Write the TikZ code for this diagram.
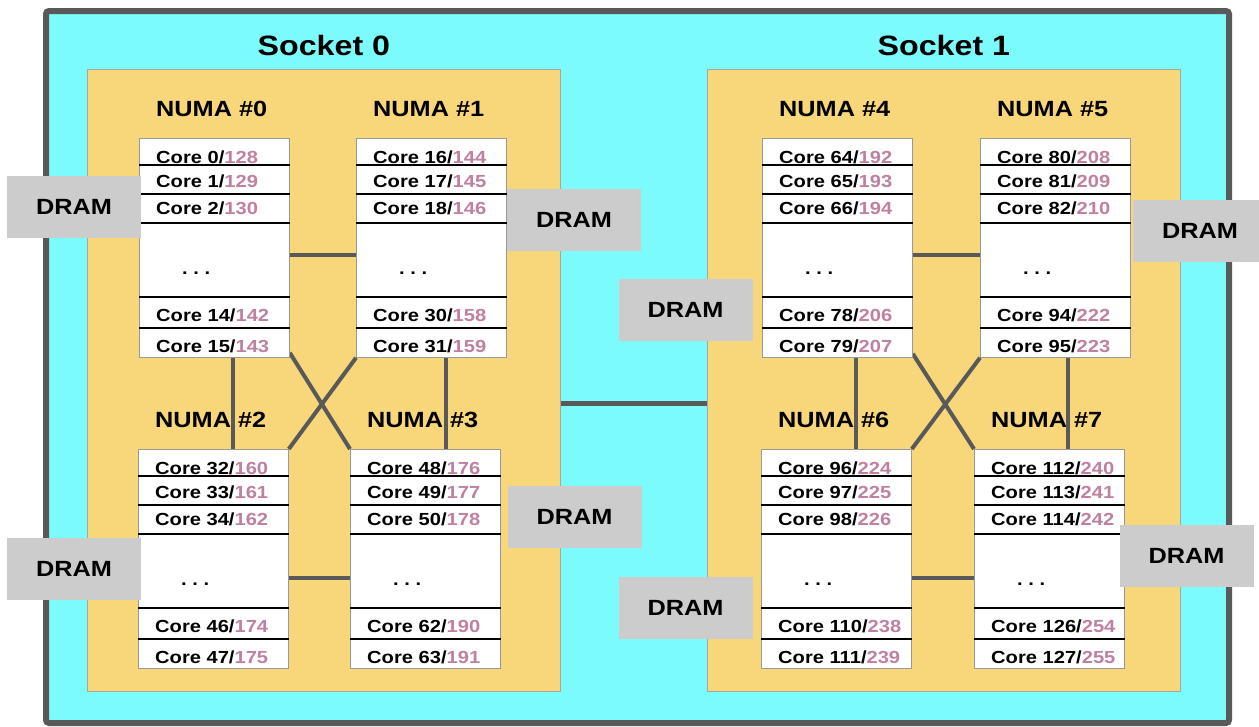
\documentclass[tikz,border=0pt]{standalone}
\usepackage{fontspec}
\setmainfont{Liberation Sans}[FakeStretch=1.15]
\usepackage{tikz}
\usetikzlibrary{positioning,calc,backgrounds}

\definecolor{boardcyan}{RGB}{124,251,252}
\definecolor{socketorange}{RGB}{248,214,122}
\definecolor{dramgray}{RGB}{204,204,204}
\definecolor{linkgray}{RGB}{89,89,89}
\definecolor{htpink}{RGB}{192,128,162}

\tikzset{
    socketbox/.style={draw=gray!70, line width=0.8pt, fill=socketorange, anchor=north west,
        minimum width=473pt, minimum height=622pt, inner sep=0pt},
    numabox/.style={draw=gray!80, line width=0.8pt, fill=white, anchor=north west,
        minimum width=150pt, minimum height=219pt, inner sep=0pt},
    sepline/.style={black, line width=2.8pt},
    link/.style={linkgray, line width=4pt},
    dram/.style={fill=dramgray, minimum width=134pt, minimum height=62pt, inner sep=0pt,
        font=\bfseries\fontsize{22}{22}\selectfont},
    coretext/.style={anchor=base west, inner sep=0pt, font=\bfseries\fontsize{17.5}{17.5}\selectfont},
    numalabel/.style={anchor=base west, inner sep=0pt, font=\bfseries\fontsize{22}{22}\selectfont},
    sockettext/.style={anchor=base, inner sep=0pt, font=\bfseries\fontsize{28}{28}\selectfont},
}

% one NUMA node: #1 index, (#2,#3) top left corner
\newcommand{\numablock}[3]{%
    \node[numabox] (n#1) at (#2,#3) {};
    \foreach \dy in {27,56,85,159,190}
        \draw[sepline] ([yshift=-\dy pt]n#1.north west) -- ([yshift=-\dy pt]n#1.north east);
    \node[numalabel] (l#1) at ([xshift=17pt,yshift=22pt]n#1.north west) {NUMA \##1};
    \pgfmathtruncatemacro{\cfirst}{16*#1}
    \foreach \k/\dy in {0/25,1/49,2/76,14/183,15/214}{
        \pgfmathtruncatemacro{\cnum}{\cfirst+\k}
        \pgfmathtruncatemacro{\hnum}{\cnum+128}
        \node[coretext] (c\cnum) at ([xshift=17pt,yshift=-\dy pt]n#1.north west)
            {Core \cnum/\textcolor{htpink}{\hnum}};
    }
    \node[coretext] (dots#1) at ([xshift=43pt,yshift=-136pt]n#1.north west) {.\ .\ .};
}

\begin{document}
\begin{tikzpicture}[x=1pt, y=-1pt]
    \useasboundingbox (0,0) rectangle (1259,726);

    \begin{scope}[on background layer]
        \draw[line width=6pt, draw=linkgray, fill=boardcyan, rounded corners=3pt] (46,11) rectangle (1229,723);
        \node[socketbox] (s0) at (87,69) {};
        \node[socketbox] (s1) at (707,69) {};
    \end{scope}

    \node[sockettext] (t0) at ([yshift=14pt]s0.north) {Socket 0};
    \node[sockettext] (t1) at ([yshift=14pt]s1.north) {Socket 1};

    % socket 0
    \numablock{0}{139}{138}
    \numablock{1}{356}{138}
    \numablock{2}{138}{449}
    \numablock{3}{350}{449}
    % socket 1
    \numablock{4}{762}{138}
    \numablock{5}{980}{138}
    \numablock{6}{761}{449}
    \numablock{7}{974}{449}

    % interconnect
    \begin{scope}[on background layer]
        \draw[link, line width=5pt] ([yshift=-23pt]s0.east) -- ([yshift=-23pt]s1.west);

        \draw[link] ([yshift=-117pt]n0.north east) -- ([yshift=-117pt]n1.north west);
        \draw[link] ([yshift=-129pt]n2.north east) -- ([yshift=-129pt]n3.north west);
        \draw[link] ($(n0.south west)+(94,0)$) -- ($(n0.south west |- n2.north)+(94,0)$);
        \draw[link] ($(n1.south west)+(90,0)$) -- ($(n1.south west |- n3.north)+(90,0)$);
        \draw[link] ($(n0.south east)+(0,-5)$) -- (n3.north west);
        \draw[link] (n1.south west) -- (n2.north east);

        \draw[link] ([yshift=-117pt]n4.north east) -- ([yshift=-117pt]n5.north west);
        \draw[link] ([yshift=-129pt]n6.north east) -- ([yshift=-129pt]n7.north west);
        \draw[link] ($(n4.south west)+(94,0)$) -- ($(n4.south west |- n6.north)+(94,0)$);
        \draw[link] ($(n5.south west)+(88,0)$) -- ($(n5.south west |- n7.north)+(88,0)$);
        \draw[link] ($(n4.south east)+(0,-4)$) -- (n7.north west);
        \draw[link] (n5.south west) -- (n6.north east);
    \end{scope}

    % memory
    \node[dram] (d0) at (74,207) {DRAM};
    \node[dram] (d1) at (574,219.5) {DRAM};
    \node[dram] (d2) at (74,568.5) {DRAM};
    \node[dram] (d3) at (574.5,517) {DRAM};
    \node[dram] (d4) at (685.5,310) {DRAM};
    \node[dram] (d5) at (1200,231) {DRAM};
    \node[dram] (d6) at (685.5,607.5) {DRAM};
    \node[dram] (d7) at (1186.5,555.5) {DRAM};
\end{tikzpicture}
\end{document}
